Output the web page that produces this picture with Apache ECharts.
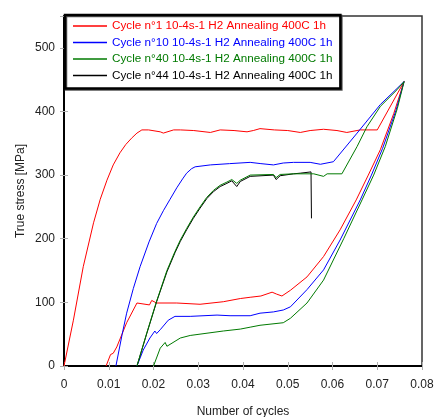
<!DOCTYPE html>
<html>
<head>
<meta charset="utf-8">
<script src="https://cdn.jsdelivr.net/npm/echarts@6/dist/echarts.min.js"></script>
<style>
  html, body { margin: 0; padding: 0; background: #fff; }
  #chart { width: 434px; height: 417px; }
</style>
</head>
<body>
<div id="chart"></div>
<script>
// legend names
const seriesNames = [
  'Cycle n°1 10-4s-1 H2 Annealing 400C 1h',
  'Cycle n°10 10-4s-1 H2 Annealing 400C 1h',
  'Cycle n°40 10-4s-1 H2 Annealing 400C 1h',
  'Cycle n°44 10-4s-1 H2 Annealing 400C 1h'
]
const seriesColors = ['#ff0000', '#0000ff', '#007a00', '#000000']

// cycle 1 (red) : loading, plateau, peak, unloading
const cycle1X = [0, 0.0021, 0.0043, 0.0066, 0.0081, 0.0096, 0.011, 0.0125, 0.0138, 0.0151, 0.0163, 0.0174, 0.0189, 0.0215, 0.0222, 0.0245, 0.026, 0.029, 0.0327, 0.0349, 0.038, 0.0409, 0.0423, 0.0438, 0.047, 0.050, 0.0528, 0.055, 0.058, 0.061, 0.0632, 0.0662, 0.070,
  0.076,
  0.0737, 0.0707, 0.068, 0.0653, 0.0617, 0.058, 0.0543, 0.0506, 0.0487, 0.0475, 0.0465, 0.044, 0.0416, 0.0394, 0.0356, 0.0304, 0.0252, 0.0207, 0.0196, 0.0191, 0.0163, 0.014, 0.0118, 0.011, 0.0104, 0.0094]
const cycle1Y = [0, 72, 156, 225, 262, 292, 316, 335, 348, 358, 366, 371, 371, 368, 366, 371, 371, 370, 367, 371, 370, 368, 370, 373, 371, 370, 367, 370, 372, 370, 367, 371, 371,
  447,
  397, 340, 300, 261, 214, 172, 140, 119, 110, 113, 116, 110, 108, 106, 101, 97, 99, 99, 103, 96, 99, 68, 30, 20, 18, 0]

// cycle 10 (blue)
const cycle10X = [0.0116, 0.013, 0.014, 0.0155, 0.017, 0.019, 0.0207, 0.0222, 0.0237, 0.0252, 0.0265, 0.0274, 0.0285, 0.0293, 0.0327, 0.037, 0.0416, 0.044, 0.0468, 0.049, 0.0513, 0.055, 0.0573, 0.0602,
  0.0655, 0.0707, 0.0744, 0.076,
  0.0742, 0.0712, 0.0687, 0.0662, 0.0617, 0.058, 0.0543, 0.0506, 0.049, 0.0468, 0.0438, 0.0416, 0.0371, 0.0342, 0.0282, 0.0248, 0.0233, 0.0215, 0.0207, 0.0203, 0.0192, 0.0177, 0.0163]
const cycle10Y = [0, 50, 83, 122, 156, 195, 224, 244, 262, 280, 294, 303, 310, 313, 316, 318, 320, 318, 316, 319, 320, 320, 317, 321,
  366, 411, 436, 447,
  402, 342, 300, 261, 198, 151, 120, 93, 88, 85, 83, 79, 79, 80, 78, 78, 72, 57, 51, 55, 44, 25, 0]

// cycle 40 (green)
const cycle40X = [0.0163, 0.0185, 0.0207, 0.023, 0.0248, 0.026, 0.0274, 0.0289, 0.0304, 0.0319, 0.0334, 0.0349, 0.0364, 0.0375, 0.0386, 0.0394, 0.0416, 0.0468, 0.0474, 0.0483, 0.0513, 0.0558, 0.058, 0.0588, 0.0621,
  0.0655, 0.0677, 0.0707, 0.0744, 0.076,
  0.0745, 0.0718, 0.0692, 0.0666, 0.0625, 0.058, 0.0543, 0.0506, 0.049, 0.0438, 0.0416, 0.0394, 0.0356, 0.0282, 0.0278, 0.026, 0.023, 0.0226, 0.0215, 0.020]
const cycle40Y = [0, 52, 102, 150, 180, 198, 216, 234, 250, 265, 276, 284, 289, 293, 287, 292, 300, 301, 296, 301, 302, 302, 298, 302, 302,
  345, 376, 408, 434, 447,
  405, 345, 300, 261, 200, 135, 99, 75, 68, 64, 61, 58, 55, 48, 51, 44, 31, 37, 28, 0]

// cycle 44 (black), stops at 0.0553
const cycle44X = [0.0163, 0.0185, 0.0207, 0.023, 0.0248, 0.026, 0.0274, 0.0289, 0.0304, 0.0319, 0.0334, 0.0349, 0.0364, 0.0375, 0.0386, 0.0394, 0.0416, 0.0468, 0.0474, 0.0483, 0.0513, 0.0528, 0.0552, 0.0553]
const cycle44Y = [0, 51, 101, 148, 178, 196, 214, 232, 248, 263, 274, 282, 287, 291, 282, 290, 298, 300, 293, 299, 302, 303, 305, 232]

// axis ticks
const xTicks = { min: 0, max: 0.08, interval: 0.01 }
const yTicks = { min: 0, max: 550, interval: 100 }

function pairs (xs, ys) {
  let out = []
  for (let i = 0; i < xs.length; i++) {
    out.push([xs[i], ys[i]])
  }
  return out
}

const allX = [cycle1X, cycle10X, cycle40X, cycle44X]
const allY = [cycle1Y, cycle10Y, cycle40Y, cycle44Y]
// draw black under green
const drawOrder = [0, 1, 3, 2]

let series = []
for (let i of drawOrder) {
  series.push({
    name: seriesNames[i],
    type: 'line',
    data: pairs(allX[i], allY[i]),
    showSymbol: false,
    symbol: 'none',
    color: seriesColors[i],
    lineStyle: { width: 1, color: seriesColors[i] },
    z: 3
  })
}

const fontFamily = 'Liberation Sans, Arial, sans-serif'
const tickStyle = { show: true, inside: true, length: 4, lineStyle: { color: '#b0b0b0', width: 1 } }

let option = {
  backgroundColor: '#fff',
  animation: false,
  textStyle: { fontFamily: fontFamily },
  grid: {
    left: 64,
    right: 12,
    top: 16,
    bottom: 51,
    show: true,
    borderColor: '#333',
    borderWidth: 1.5,
    outerBoundsMode: 'none'
  },
  legend: {
    data: seriesNames.map((n, i) => ({ name: n, textStyle: { color: seriesColors[i] } })),
    orient: 'vertical',
    left: 65,
    top: 15,
    padding: [5, 8, 7, 8],
    itemGap: 4.5,
    itemWidth: 34,
    itemHeight: 1.5,
    icon: 'rect',
    backgroundColor: '#fff',
    borderColor: '#000',
    borderWidth: 2.5,
    shadowColor: '#555',
    shadowOffsetX: 1,
    shadowOffsetY: 1,
    shadowBlur: 0,
    textStyle: { fontSize: 11.7, fontFamily: fontFamily },
    z: 10
  },
  xAxis: [
    {
      type: 'value',
      min: xTicks.min,
      max: xTicks.max,
      interval: xTicks.interval,
      name: 'Number of cycles',
      nameLocation: 'middle',
      nameGap: 40,
      nameMoveOverlap: false,
      nameTextStyle: { fontSize: 12, color: '#222' },
      axisLine: { show: true, onZero: false, lineStyle: { color: '#000', width: 2 } },
      axisTick: tickStyle,
      axisLabel: { fontSize: 12, color: '#222', margin: 13 },
      splitLine: { show: false }
    },
    {
      type: 'value',
      position: 'top',
      min: xTicks.min,
      max: xTicks.max,
      interval: xTicks.interval,
      axisLine: { show: false },
      axisTick: tickStyle,
      axisLabel: { show: false },
      splitLine: { show: false }
    }
  ],
  yAxis: [
    {
      type: 'value',
      min: yTicks.min,
      max: yTicks.max,
      interval: yTicks.interval,
      name: 'True stress [MPa]',
      nameLocation: 'middle',
      nameGap: 37,
      nameMoveOverlap: false,
      nameTextStyle: { fontSize: 12, color: '#222' },
      axisLine: { show: true, onZero: false, lineStyle: { color: '#000', width: 2 } },
      axisTick: tickStyle,
      axisLabel: { fontSize: 12, color: '#222', margin: 9, showMaxLabel: false },
      splitLine: { show: false }
    },
    {
      type: 'value',
      position: 'right',
      min: yTicks.min,
      max: yTicks.max,
      interval: yTicks.interval,
      axisLine: { show: false },
      axisTick: tickStyle,
      axisLabel: { show: false },
      splitLine: { show: false }
    }
  ],
  series: series
}

let myChart = echarts.init(document.getElementById('chart'), null, { renderer: 'canvas' })
myChart.setOption(option)
</script>
</body>
</html>
